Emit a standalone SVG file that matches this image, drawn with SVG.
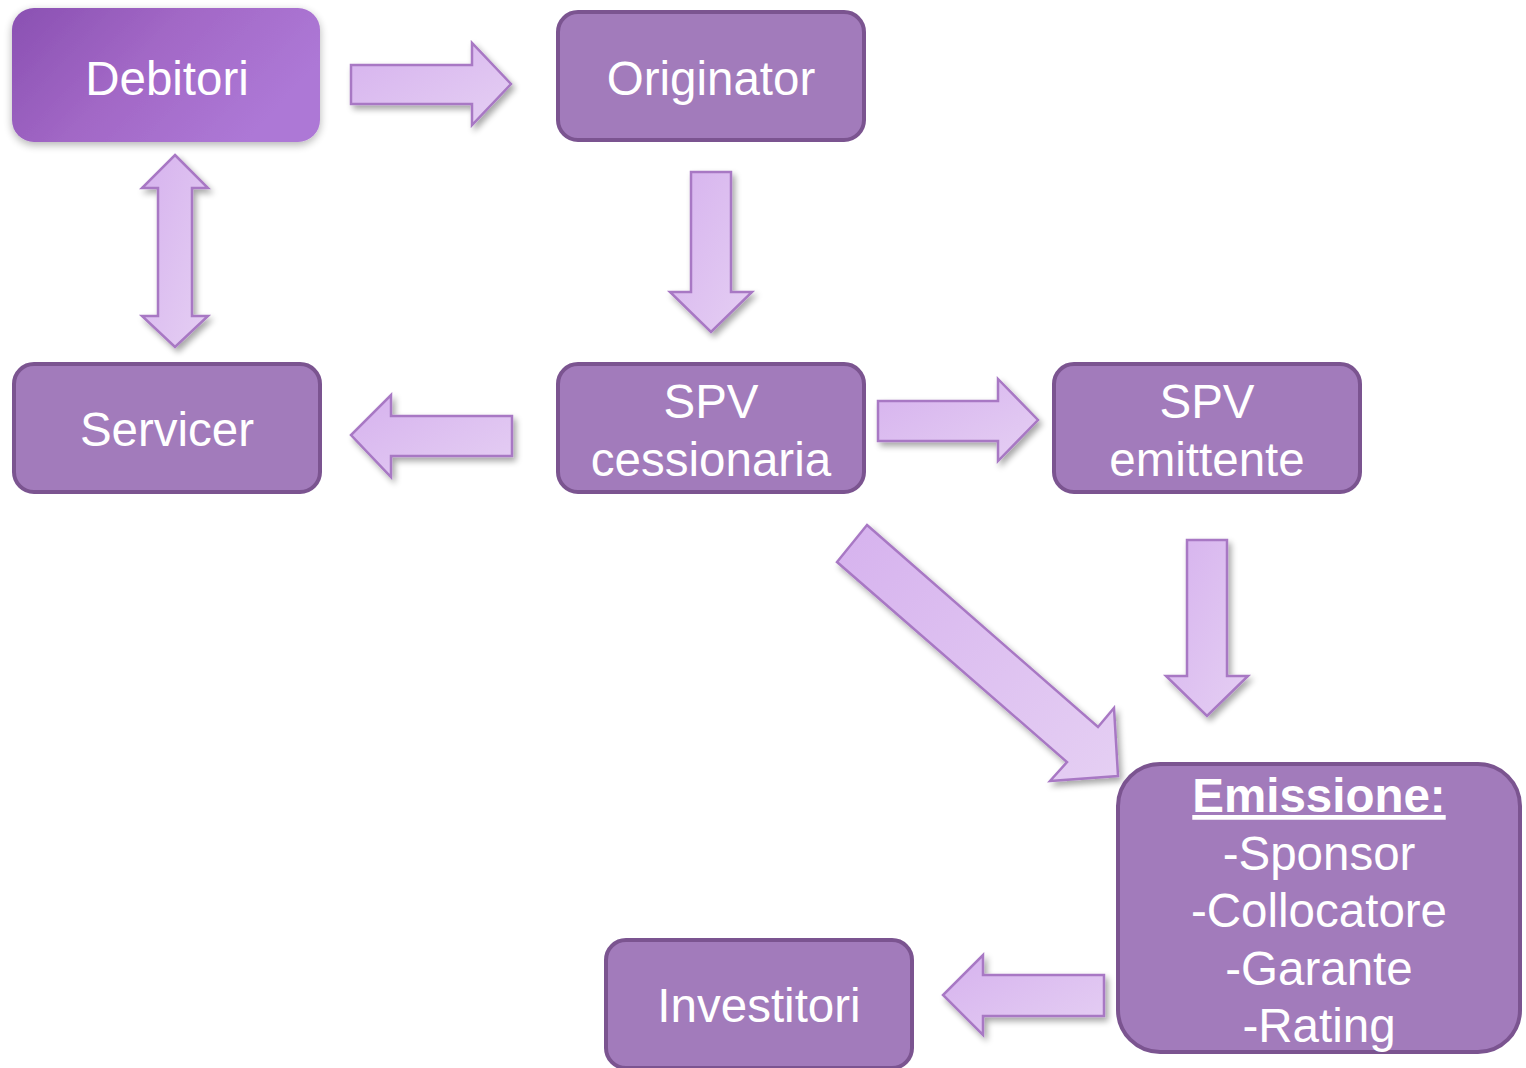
<svg xmlns="http://www.w3.org/2000/svg" width="1526" height="1068" viewBox="0 0 1526 1068">
<defs>
<linearGradient id="arrGrad" x1="0" y1="0" x2="1" y2="1">
<stop offset="0" stop-color="#d6b2ee"/>
<stop offset="1" stop-color="#e5cff3"/>
</linearGradient>
<linearGradient id="debGrad" x1="0" y1="0" x2="1" y2="0.4">
<stop offset="0" stop-color="#8a50b2"/>
<stop offset="0.5" stop-color="#a268c6"/>
<stop offset="1" stop-color="#ad78d6"/>
</linearGradient>
<filter id="sh" x="-20%" y="-20%" width="140%" height="140%">
<feGaussianBlur in="SourceAlpha" stdDeviation="3"/>
<feOffset dx="3" dy="4" result="b"/>
<feComponentTransfer><feFuncA type="linear" slope="0.35"/></feComponentTransfer>
<feMerge><feMergeNode/><feMergeNode in="SourceGraphic"/></feMerge>
</filter>
<filter id="glow" x="-10%" y="-10%" width="120%" height="130%">
<feGaussianBlur in="SourceAlpha" stdDeviation="4"/>
<feOffset dx="0" dy="3"/>
<feComponentTransfer><feFuncA type="linear" slope="0.3"/></feComponentTransfer>
<feMerge><feMergeNode/><feMergeNode in="SourceGraphic"/></feMerge>
</filter>
</defs>
<style>
.box{fill:#a27bbb;stroke:#7b5490;stroke-width:4}
.lbl{font-family:"Liberation Sans",Arial,sans-serif;font-size:47.5px;fill:#ffffff;text-anchor:middle}
.arr{fill:url(#arrGrad);stroke:#a878c4;stroke-width:2.5;stroke-linejoin:miter}
</style>
<rect width="1526" height="1068" fill="#ffffff"/>
<g id="connectors">
<polygon class="arr" filter="url(#sh)" points="351,65 472,65 472,43 511,84 472,125 472,104 351,104"/>
<polygon class="arr" filter="url(#sh)" points="691,172 731,172 731,292 752,292 711,332 670,292 691,292"/>
<polygon class="arr" filter="url(#sh)" points="175,155 208,188 192,188 192,316 208,316 175,347 142,316 158,316 158,188 142,188"/>
<polygon class="arr" filter="url(#sh)" points="512,416 391,416 391,395 351,435 391,477 391,456 512,456"/>
<polygon class="arr" filter="url(#sh)" points="878,401 998,401 998,379 1038,420 998,461 998,441 878,441"/>
<polygon class="arr" filter="url(#sh)" points="1187,540 1227,540 1227,676 1248,676 1207,716 1166,676 1187,676"/>
<polygon class="arr" filter="url(#sh)" points="867,525 1098,727 1114,708 1118,776 1050,781 1067,762 837,562"/>
<polygon class="arr" filter="url(#sh)" points="1104,975 983,975 983,955 943,995 983,1035 983,1016 1104,1016"/>
</g>
<g id="node-debitori">
<rect x="12" y="8" width="308" height="134" rx="22" fill="url(#debGrad)" filter="url(#glow)"/>
<text class="lbl" x="167" y="95">Debitori</text>
</g>
<g id="node-originator">
<rect class="box" x="558" y="12" width="306" height="128" rx="20"/>
<text class="lbl" x="711" y="95">Originator</text>
</g>
<g id="node-servicer">
<rect class="box" x="14" y="364" width="306" height="128" rx="20"/>
<text class="lbl" x="167" y="446">Servicer</text>
</g>
<g id="node-spv-cessionaria">
<rect class="box" x="558" y="364" width="306" height="128" rx="20"/>
<text class="lbl" x="711" y="418">SPV</text>
<text class="lbl" x="711" y="476">cessionaria</text>
</g>
<g id="node-spv-emittente">
<rect class="box" x="1054" y="364" width="306" height="128" rx="20"/>
<text class="lbl" x="1207" y="418">SPV</text>
<text class="lbl" x="1207" y="476">emittente</text>
</g>
<g id="node-emissione">
<rect class="box" x="1118" y="764" width="402" height="288" rx="42"/>
<text class="lbl" x="1319" y="812" font-weight="bold" font-size="48" text-decoration="underline">Emissione:</text>
<text class="lbl" x="1319" y="870" font-size="48">-Sponsor</text>
<text class="lbl" x="1319" y="927" font-size="48">-Collocatore</text>
<text class="lbl" x="1319" y="985" font-size="48">-Garante</text>
<text class="lbl" x="1319" y="1042" font-size="48">-Rating</text>
</g>
<g id="node-investitori">
<rect class="box" x="606" y="940" width="306" height="128" rx="20"/>
<text class="lbl" x="759" y="1022">Investitori</text>
</g>
</svg>
